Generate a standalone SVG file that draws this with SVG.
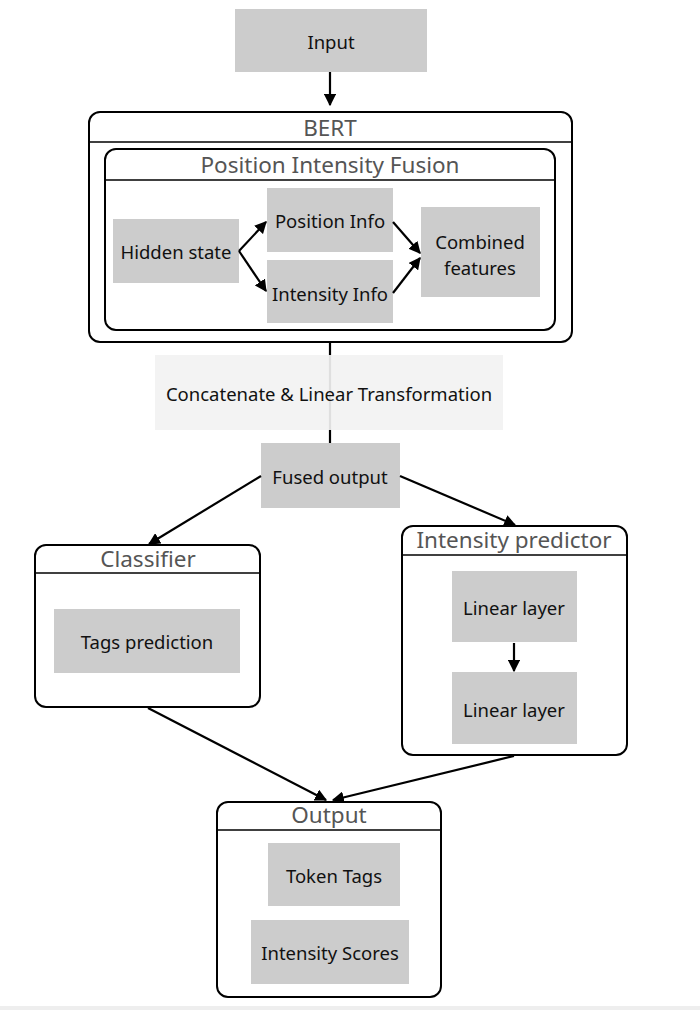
<svg xmlns="http://www.w3.org/2000/svg" width="700" height="1010" viewBox="0 0 700 1010">
<defs>
<marker id="ah" viewBox="0 0 10 10" refX="9" refY="5" markerWidth="5.5" markerHeight="5.5" orient="auto" markerUnits="strokeWidth">
<path d="M0,0 L10,5 L0,10 z" fill="#000"/>
</marker>
<style>
.box{fill:#cccccc}
.cont{fill:#ffffff;stroke:#000;stroke-width:2}
.hl{stroke:#000;stroke-width:1.5}
.t{font-family:"Noto Sans","Open Sans",sans-serif;font-size:18.5px;fill:#111;text-anchor:middle;dominant-baseline:central}
.h{font-family:"Noto Sans","Open Sans",sans-serif;font-size:22.5px;fill:#555;text-anchor:middle;dominant-baseline:central}
.c{stroke:#000;stroke-width:2.2;fill:none}
</style>
</defs>
<rect width="700" height="1010" fill="#fff"/>
<rect x="0" y="1006" width="700" height="4" fill="#eeeeee"/>

<g id="connectors-back">
<line class="c" x1="330" y1="342" x2="330" y2="443"/>
</g>

<g id="input"><rect class="box" x="235" y="9" width="192" height="63"/><text class="t" x="331" y="41">Input</text></g>

<g id="bert">
<rect class="cont" x="89" y="112" width="483" height="230" rx="11"/>
<line class="hl" x1="89" y1="142" x2="572" y2="142"/>
<text class="h" x="330" y="127">BERT</text>
</g>

<g id="pif">
<rect class="cont" x="105" y="149" width="450" height="181" rx="11"/>
<line class="hl" x1="105" y1="180" x2="555" y2="180"/>
<text class="h" x="330" y="164">Position Intensity Fusion</text>
</g>

<g id="hidden"><rect class="box" x="113" y="219" width="126" height="64"/><text class="t" x="176" y="251">Hidden state</text></g>
<g id="posinfo"><rect class="box" x="267" y="188" width="126" height="64"/><text class="t" x="330" y="220">Position Info</text></g>
<g id="intinfo"><rect class="box" x="267" y="260" width="126" height="63"/><text class="t" x="330" y="293">Intensity Info</text></g>
<g id="combined"><rect class="box" x="421" y="207" width="119" height="90"/><text class="t" x="480" y="241">Combined</text><text class="t" x="480" y="267">features</text></g>

<g id="concat"><rect x="155" y="355" width="348" height="75" fill="#f2f2f2" fill-opacity="0.92"/><text class="t" x="329" y="393">Concatenate &amp; Linear Transformation</text></g>

<g id="fused"><rect class="box" x="261" y="443" width="139" height="65"/><text class="t" x="330" y="476">Fused output</text></g>

<g id="classifier">
<rect class="cont" x="35" y="545" width="225" height="162" rx="11"/>
<line class="hl" x1="35" y1="573" x2="260" y2="573"/>
<text class="h" x="148" y="558">Classifier</text>
</g>
<g id="tags"><rect class="box" x="54" y="609" width="186" height="64"/><text class="t" x="147" y="641">Tags prediction</text></g>

<g id="intpred">
<rect class="cont" x="402" y="526" width="225" height="229" rx="11"/>
<line class="hl" x1="402" y1="555" x2="627" y2="555"/>
<text class="h" x="514" y="539">Intensity predictor</text>
</g>
<g id="lin1"><rect class="box" x="452" y="571" width="125" height="71"/><text class="t" x="514" y="607">Linear layer</text></g>
<g id="lin2"><rect class="box" x="452" y="672" width="125" height="72"/><text class="t" x="514" y="709">Linear layer</text></g>

<g id="output">
<rect class="cont" x="217" y="802" width="224" height="195" rx="11"/>
<line class="hl" x1="217" y1="830" x2="441" y2="830"/>
<text class="h" x="329" y="814">Output</text>
</g>
<g id="tokentags"><rect class="box" x="268" y="843" width="132" height="63"/><text class="t" x="334" y="875">Token Tags</text></g>
<g id="intscores"><rect class="box" x="251" y="920" width="158" height="64"/><text class="t" x="330" y="952">Intensity Scores</text></g>

<g id="connectors">
<line class="c" x1="330" y1="72" x2="330" y2="105" marker-end="url(#ah)"/>
<line class="c" x1="239" y1="251" x2="266" y2="222" marker-end="url(#ah)"/>
<line class="c" x1="239" y1="251" x2="266" y2="291" marker-end="url(#ah)"/>
<line class="c" x1="393" y1="222" x2="420" y2="253" marker-end="url(#ah)"/>
<line class="c" x1="393" y1="293" x2="420" y2="258" marker-end="url(#ah)"/>
<line class="c" x1="261" y1="476" x2="149" y2="544" marker-end="url(#ah)"/>
<line class="c" x1="400" y1="476" x2="515" y2="525" marker-end="url(#ah)"/>
<line class="c" x1="514" y1="643" x2="514" y2="671" marker-end="url(#ah)"/>
<line class="c" x1="148" y1="708" x2="326" y2="800" marker-end="url(#ah)"/>
<line class="c" x1="514" y1="756" x2="333" y2="800" marker-end="url(#ah)"/>
</g>
</svg>
